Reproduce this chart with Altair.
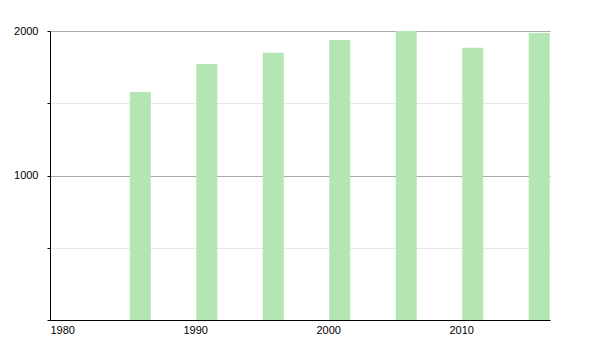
import altair as alt
import pandas as pd

years = [1986, 1991, 1996, 2001, 2006, 2011, 2016]
population = [1578, 1772, 1850, 1938, 2000, 1884, 1986]

df = pd.DataFrame({"year": years, "population": population})

font = "Liberation Sans"

bars = alt.Chart(df).mark_bar(
    color="#b3e6b3", width=21, xOffset=10.5, clip=True
).encode(
    x=alt.X(
        "year:Q",
        scale=alt.Scale(domain=[1980, 2017.6], nice=False, zero=False, padding=0),
        axis=alt.Axis(
            values=[1980, 1990, 2000, 2010],
            format="d",
            title=None,
            grid=False,
            ticks=False,
            labelAlign="left",
            labelPadding=4,
            labelFont=font,
            labelFontSize=11,
            labelColor="#000",
            domainColor="#000",
            labelFlush=False,
        ),
    ),
    y=alt.Y(
        "population:Q",
        scale=alt.Scale(domain=[0, 2000], nice=False, padding=0),
        axis=alt.Axis(
            values=[0, 500, 1000, 1500, 2000],
            format="d",
            title=None,
            labelExpr="datum.value == 1000 || datum.value == 2000 ? datum.label : ''",
            gridColor={
                "condition": {"test": "datum.value % 1000 === 0", "value": "#aaaaaa"},
                "value": "#e8e8e8",
            },
            tickColor="#000",
            tickSize=3,
            labelPadding=9,
            labelFont=font,
            labelFontSize=11,
            labelColor="#000",
            domainColor="#000",
            labelFlush=False,
        ),
    ),
)

chart = bars.properties(
    width=500,
    height=289,
    background="white",
    autosize=alt.AutoSizeParams(type="none"),
    padding={"left": 50, "top": 31, "right": 50, "bottom": 30},
).configure_view(stroke="transparent", strokeWidth=0)

chart.save("out.html", embed_options={"renderer": "svg", "actions": False})
